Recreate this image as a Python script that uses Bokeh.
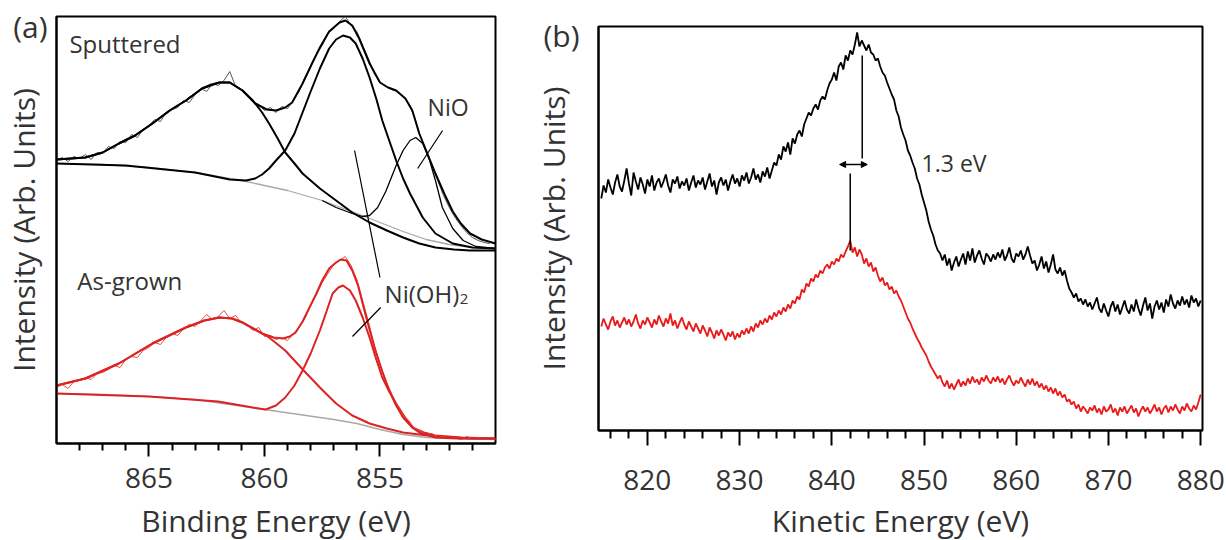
from bokeh.plotting import figure
from bokeh.models import Range1d, FixedTicker, Label, Arrow, NormalHead, Spacer
from bokeh.layouts import row, column
from bokeh.embed import file_html
from bokeh.resources import INLINE

FONT = "Open Sans"
TXT = "#333333"
RED_A = "#dc2222"
RED_B = "#ea1a1a"
BG_GRAY = "#a8a8a8"

# ---------------- panel (a): Ni 2p XPS, binding energy ----------------
a_major_ticks = [865, 860, 855]
a_minor_ticks = [868, 867, 866, 864, 863, 862, 861, 859, 858, 857, 856, 854, 853, 852, 851]

# measured spectra, 0.25 eV steps from 869 eV downwards
a_data_start = 869.0
a_data_step = -0.25
sput_data = [
    283, 286, 282, 287, 285, 289, 284, 291, 290, 297, 295, 302, 301, 309, 306, 314,
    318, 324, 322, 331, 334, 336, 343, 341, 349, 355, 352, 360, 358, 363, 372, 357,
    354, 349, 342, 339, 333, 336, 331, 337, 335, 343, 352, 366, 377, 389, 398, 410,
    415, 422, 427, 418, 412, 398, 385, 370, 361, 357, 354, 352, 347, 340, 326, 307,
    293, 278, 263, 248, 236, 226, 218, 211, 206, 203, 201, 200,
]
grown_data = [
    56, 59, 55, 62, 63, 66, 64, 70, 71, 74, 78, 76, 84, 87, 86, 93,
    96, 101, 99, 106, 110, 108, 115, 119, 117, 123, 129, 124, 127, 133, 125, 128,
    121, 119, 113, 116, 107, 108, 104, 106, 103, 110, 116, 125, 138, 149, 161, 170,
    179, 183, 187, 178, 164, 143, 122, 99, 80, 63, 50, 38, 28, 23, 15, 13,
    9, 10, 6, 7, 5, 6, 4, 7, 5, 6, 5, 6,
]

# Sputtered fit
sput_bg_e = [869, 867, 865, 863, 861, 859, 857.5, 856, 855, 854, 853, 852, 851, 850]
sput_bg_y = [280, 279, 276, 271, 263, 253, 243, 230, 221, 212, 204, 199, 196, 195]
sput_sat_e = [869, 867.75, 867.0, 866.3, 865.6, 864.85, 864.1, 863.4, 862.7, 862.3, 861.95,
              861.5, 860.95, 860.5, 860.1, 859.8, 859.45, 859.1, 858.7, 858.35, 857.6,
              856.9, 856.2, 855.45, 854.7, 854.0, 853.3, 852.6, 851.8, 851.1, 850]
sput_sat_y = [284, 286, 291, 300, 308, 320, 333, 343, 355, 359, 361,
              361, 353, 343, 331, 320, 306, 291, 280, 270, 255,
              243, 231, 221, 213, 206, 200, 196, 194, 193, 193]
sput_main_e = [869, 866, 863, 861.5, 860.8, 860.4, 860.1, 859.8, 859.5, 859.1, 858.7,
               858.35, 858.0, 857.6, 857.2, 856.9, 856.6, 856.3, 856.05, 855.75, 855.45,
               855.15, 854.9, 854.6, 854.3, 854.0, 853.7, 853.15, 852.6, 851.85, 851.0, 850]
sput_main_y = [280, 278, 271, 264, 263, 265, 269, 275, 283, 293, 310,
               331, 352, 375, 395, 404, 408, 406, 400, 385, 366,
               344, 323, 303, 283, 265, 250, 226, 210, 200, 196, 195]
sput_nio_e = [857.5, 856.9, 856.2, 855.75, 855.45, 855.1, 854.75, 854.3, 854.0, 853.7,
              853.45, 853.15, 852.85, 852.6, 852.3, 851.85, 851.4, 850.85, 850]
sput_nio_y = [243, 236, 230, 227, 228, 236, 252, 278, 293, 303,
              306, 300, 283, 263, 236, 215, 203, 197, 195]
sput_fit_e = [869, 867.75, 867, 866.3, 865.6, 864.85, 864.1, 863.4, 862.7, 861.95, 861.5,
              860.95, 860.4, 859.9, 859.5, 859.1, 858.8, 858.35, 857.9, 857.6, 857.2,
              856.75, 856.5, 856.2, 855.9, 855.45, 855.0, 854.65, 854.3, 853.9, 853.6,
              853.3, 852.95, 852.6, 852.2, 851.85, 851.5, 851.1, 850.6, 850]
sput_fit_y = [284, 286, 291, 300, 308, 320, 333, 343, 355, 361, 361,
              353, 340, 334, 333, 336, 341, 360, 382, 396, 412,
              421, 423, 418, 405, 380, 361, 356, 353, 345, 333,
              310, 290, 270, 249, 232, 220, 210, 204, 200]

# As-grown fit
grown_bg_e = [869, 867, 865, 863, 861.5, 860, 858.5, 857, 856, 855, 854, 853, 852, 850]
grown_bg_y = [50, 49, 47, 44, 39, 34, 29, 24, 20, 14, 9, 6, 5, 4]
grown_sat_e = [869, 867.75, 866.3, 864.85, 863.4, 862.6, 861.95, 861.4, 860.95, 860.4, 859.8,
               859.1, 858.3, 857.6, 856.9, 856.2, 855.45, 854.7, 854.0, 852.6, 851.0, 850]
grown_sat_y = [58, 65, 80, 100, 116, 123, 126, 125, 121, 114, 106,
               93, 73, 56, 40, 28, 20, 15, 11, 7, 5, 5]
grown_main_e = [869, 865, 862, 860.5, 859.95, 859.5, 859.1, 858.7, 858.35, 858.0, 857.6,
                857.3, 857.05, 856.8, 856.6, 856.3, 856.05, 855.75, 855.45, 855.2, 854.9,
                854.6, 854.3, 854.0, 853.6, 853.1, 852.6, 851.5, 850]
grown_main_y = [50, 47, 42, 36, 34, 38, 46, 58, 73, 90, 113,
                133, 150, 156, 158, 153, 143, 126, 106, 87, 66,
                52, 40, 29, 16, 11, 8, 6, 5]
grown_fit_e = [869, 867.75, 866.3, 864.85, 863.4, 862.6, 861.95, 861.4, 860.95, 860.5, 860.1,
               859.6, 859.2, 858.9, 858.65, 858.35, 858.05, 857.75, 857.5, 857.2, 856.9,
               856.7, 856.45, 856.2, 855.95, 855.75, 855.5, 855.2, 854.9, 854.6, 854.3,
               854.0, 853.6, 853.3, 852.6, 851.5, 850]
grown_fit_y = [58, 65, 80, 100, 116, 123, 126, 125, 121, 115, 110,
               106, 105, 107, 111, 122, 136, 150, 163, 175, 181,
               184, 183, 173, 158, 140, 118, 93, 72, 53, 38,
               26, 16, 11, 6, 5, 5]

# ---------------- panel (b): Auger, kinetic energy ----------------
b_major_ticks = [820, 830, 840, 850, 860, 870, 880]
b_minor_ticks = [816, 818, 822, 824, 826, 828, 832, 834, 836, 838, 842, 844, 846, 848,
                 852, 854, 856, 858, 862, 864, 866, 868, 872, 874, 876, 878]
b_data_start = 815.0
b_data_step = 0.25
b_sputtered = [
    232, 245, 238, 251, 243, 236, 248, 256, 244, 239, 250, 262, 247, 235, 258, 249,
    241, 253, 246, 237, 251, 244, 255, 240, 248, 252, 243, 249, 256, 245, 238, 251,
    247, 254, 242, 249, 245, 252, 240, 248, 255, 243, 250, 246, 253, 241, 249, 257,
    244, 250, 236, 248, 253, 245, 251, 240, 249, 256, 247, 252, 244, 255, 250, 258,
    247, 253, 262, 251, 256, 248, 259, 254, 263, 252, 260, 268, 265, 276, 271, 284,
    279, 288, 276, 292, 287, 296, 300, 294, 306, 312, 318, 315, 322, 326, 321, 330,
    334, 331, 340, 347, 351, 358, 350, 364, 368, 361, 375, 370, 380, 376, 386, 398,
    384, 390, 385, 380, 386, 378, 376, 370, 372, 364, 358, 355, 348, 342, 336, 331,
    320, 314, 303, 296, 290, 280, 275, 268, 262, 252, 246, 236, 228, 220, 209, 201,
    195, 186, 180, 177, 170, 176, 165, 172, 160, 168, 174, 164, 171, 177, 166, 179,
    170, 182, 168, 175, 180, 172, 166, 177, 174, 169, 176, 171, 178, 173, 181, 170,
    175, 183, 172, 168, 177, 174, 180, 171, 176, 184, 175, 167, 170, 160, 166, 174,
    162, 169, 158, 166, 176, 161, 157, 163, 155, 160, 150, 142, 138, 133, 137, 129,
    132, 126, 131, 124, 128, 121, 127, 133, 122, 118, 127, 120, 114, 124, 129, 119,
    126, 116, 123, 130, 121, 117, 126, 119, 131, 122, 115, 125, 133, 120, 127, 112,
    124, 130, 121, 128, 118, 131, 124, 136, 127, 122, 130, 125, 134, 126, 131, 123,
    135, 128, 132, 124, 130,
]
b_as_grown = [
    104, 112, 106, 101, 109, 114, 105, 110, 103, 108, 113, 106, 111, 104, 109, 116,
    107, 102, 110, 106, 113, 108, 103, 111, 106, 115, 109, 104, 112, 107, 117, 105,
    110, 102, 108, 113, 106, 101, 109, 104, 99, 107, 102, 97, 105, 100, 94, 103,
    98, 92, 100, 95, 101, 96, 90, 98, 94, 99, 91, 97, 93, 100, 96, 102,
    97, 104, 99, 107, 103, 110, 106, 112, 108, 115, 111, 118, 114, 120, 116, 123,
    119, 126, 122, 130, 127, 134, 131, 141, 138, 147, 144, 152, 149, 156, 153, 160,
    157, 163, 166, 162, 169, 166, 172, 169, 176, 173, 179, 184, 190, 178, 183, 174,
    181, 176, 167, 172, 164, 168, 159, 163, 155, 149, 153, 145, 148, 141, 144, 137,
    140, 134, 130, 124, 118, 112, 108, 102, 97, 92, 88, 83, 79, 75, 69, 64,
    60, 56, 52, 55, 48, 44, 50, 42, 47, 41, 46, 51, 44, 49, 45, 52,
    47, 54, 48, 51, 46, 53, 49, 55, 50, 47, 53, 49, 54, 48, 52, 46,
    51, 55, 49, 45, 50, 47, 53, 48, 44, 51, 46, 52, 45, 49, 43, 47,
    41, 45, 39, 43, 37, 42, 35, 39, 33, 36, 29, 31, 26, 29, 22, 26,
    19, 24, 21, 17, 23, 20, 25, 18, 22, 16, 24, 19, 21, 26, 18, 22,
    15, 23, 19, 24, 17, 21, 25, 18, 22, 14, 20, 24, 19, 23, 17, 21,
    26, 19, 23, 16, 22, 25, 18, 24, 20, 26, 21, 17, 24, 20, 27, 22,
    19, 25, 21, 28, 36,
]
b_peak_sputtered = 843.3
b_peak_grown = 842.0

a_energy = [a_data_start + a_data_step * i for i in range(len(sput_data))]
b_energy = [b_data_start + b_data_step * i for i in range(len(b_sputtered))]


def style_common(p, major, minor, title, tick_out, minor_out, lab_standoff, title_standoff,
                 panel_tag, tag_pos, tag_standoff, y_title_standoff):
    p.grid.visible = False
    p.outline_line_color = "black"
    p.outline_line_width = 2
    p.background_fill_color = "white"
    p.border_fill_color = "white"
    # left axis: carries the panel tag "(a)"/"(b)" as its single tick label and the title
    ya = p.yaxis[0]
    ya.ticker = FixedTicker(ticks=[tag_pos])
    ya.major_label_overrides = {tag_pos: panel_tag}
    ya.major_tick_out = 0
    ya.major_tick_in = 0
    ya.minor_tick_out = 0
    ya.major_tick_line_color = None
    ya.major_label_standoff = tag_standoff
    ya.major_label_text_font = FONT
    ya.major_label_text_font_size = "30px"
    ya.major_label_text_color = TXT
    ya.axis_line_width = 2
    ya.axis_label = "Intensity (Arb. Units)"
    ya.axis_label_standoff = y_title_standoff
    ya.axis_label_text_font = FONT
    ya.axis_label_text_font_size = "30px"
    ya.axis_label_text_font_style = "normal"
    ya.axis_label_text_color = TXT
    xa = p.xaxis[0]
    xa.ticker = FixedTicker(ticks=major, minor_ticks=minor)
    xa.major_tick_in = 0
    xa.major_tick_out = tick_out
    xa.minor_tick_in = 0
    xa.minor_tick_out = minor_out
    xa.major_tick_line_width = 2
    xa.minor_tick_line_width = 2
    xa.axis_line_width = 2
    xa.major_label_standoff = lab_standoff
    xa.major_label_text_font = FONT
    xa.major_label_text_font_size = "28px"
    xa.major_label_text_color = TXT
    xa.axis_label = title
    xa.axis_label_standoff = title_standoff
    xa.axis_label_text_font = FONT
    xa.axis_label_text_font_size = "30px"
    xa.axis_label_text_font_style = "normal"
    xa.axis_label_text_color = TXT


def lab(p, x, y, text, size="24px"):
    p.add_layout(Label(x=x, y=y, text=text,
                       text_font=FONT, text_font_size=size, text_color=TXT,
                       text_baseline="middle", text_align="left"))


# ---------- figure (a) ----------
pa = figure(title=None, frame_width=439, frame_height=427,
            min_border_left=54, min_border_right=35, min_border_top=16, min_border_bottom=97,
            x_range=Range1d(869, 850), y_range=Range1d(0, 427),
            output_backend="svg", toolbar_location=None)
style_common(pa, a_major_ticks, a_minor_ticks, "Binding Energy (eV)", 13, 7, 11, 9,
             "(a)", 417, 9, -34)

# sputtered
pa.line(sput_bg_e, sput_bg_y, line_color=BG_GRAY, line_width=1.3)
pa.line(sput_sat_e, sput_sat_y, line_color="black", line_width=2)
pa.line(sput_main_e, sput_main_y, line_color="black", line_width=2)
pa.line(sput_nio_e, sput_nio_y, line_color="black", line_width=1.3)
pa.line(a_energy, sput_data, line_color="#555555", line_width=1)
pa.line(sput_fit_e, sput_fit_y, line_color="black", line_width=2)
# as-grown
pa.line(grown_bg_e, grown_bg_y, line_color=BG_GRAY, line_width=1.3)
pa.line(grown_sat_e, grown_sat_y, line_color=RED_A, line_width=2)
pa.line(grown_main_e, grown_main_y, line_color=RED_A, line_width=2)
pa.line(a_energy, grown_data, line_color="#e44a4a", line_width=1)
pa.line(grown_fit_e, grown_fit_y, line_color=RED_A, line_width=2)

# pointer lines
pa.segment(x0=[852.29, 856.1, 854.97], y0=[313, 293, 136],
           x1=[853.37, 855.0, 856.19], y1=[275, 166, 107],
           line_color="black", line_width=1.2)

lab(pa, 868.44, 400, "Sputtered", "24px")
lab(pa, 868.1, 163, "As-grown", "24px")
lab(pa, 852.94, 337, "NiO", "23px")
lab(pa, 854.8, 150, "Ni(OH)", "24px")
lab(pa, 851.55, 145, "2", "15px")

# ---------- figure (b) ----------
pb = figure(title=None, frame_width=604, frame_height=404,
            min_border_left=66, min_border_right=28, min_border_top=16, min_border_bottom=100,
            x_range=Range1d(814.7, 880.2), y_range=Range1d(0, 404),
            output_backend="svg", toolbar_location=None)
style_common(pb, b_major_ticks, b_minor_ticks, "Kinetic Energy (eV)", 15, 8, 24, 7,
             "(b)", 403.5, 19, -34)

pb.line(b_energy, b_sputtered, line_color="black", line_width=1.8)
pb.line(b_energy, b_as_grown, line_color=RED_B, line_width=1.8)

pb.segment(x0=[b_peak_sputtered, b_peak_grown], y0=[375, 257],
           x1=[b_peak_sputtered, b_peak_grown], y1=[272, 180],
           line_color="black", line_width=1.5)
pb.add_layout(Arrow(start=NormalHead(size=6, fill_color="black", line_color="black"),
                    end=NormalHead(size=6, fill_color="black", line_color="black"),
                    x_start=840.85, y_start=266, x_end=843.85, y_end=266,
                    line_color="black", line_width=1.3))
lab(pb, 849.74, 268, "1.3 eV", "23px")

layout = row(pa, column(Spacer(width=696, height=10), pb))
open("out.html", "w").write(file_html(layout, INLINE))
